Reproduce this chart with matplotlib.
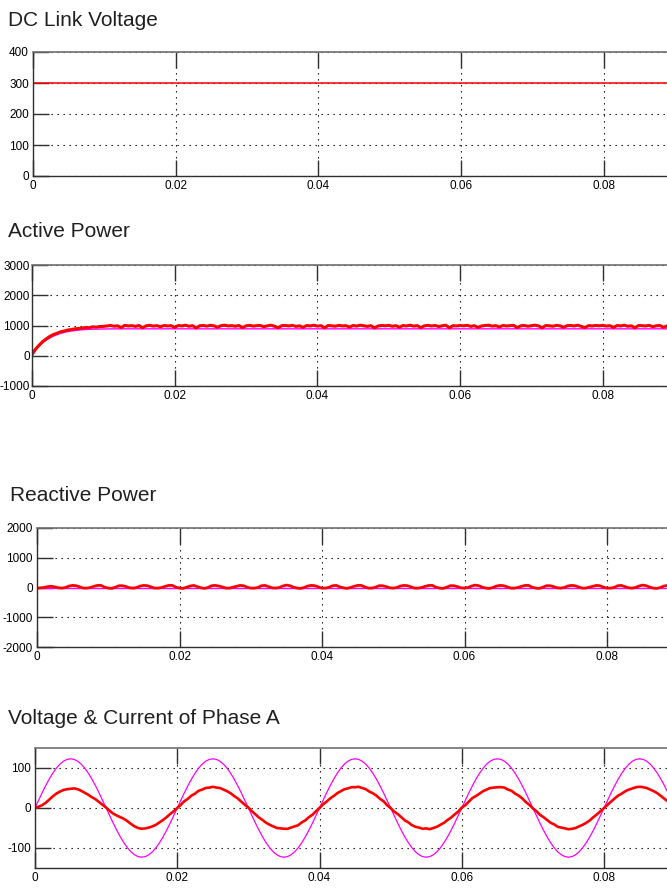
import numpy as np
import matplotlib
matplotlib.use("Agg")
import matplotlib.pyplot as plt

plt.rcParams['font.family'] = ['Liberation Sans', 'DejaVu Sans']

# ---------------- data ----------------
sample_time = np.linspace(0.0, 0.09, 181)  # 0.5 ms sampling

x_ticks = [0, 0.02, 0.04, 0.06, 0.08]
x_tick_labels = ['0', '0.02', '0.04', '0.06', '0.08']

titles = ['DC Link Voltage', 'Active Power', 'Reactive Power', 'Voltage & Current of Phase A']

# DC link voltage
dc_time = [0.0, 0.09]
dc_voltage = [300, 300]
dc_yticks = [0, 100, 200, 300, 400]

# Active power
active_meas = [
    40, 220, 350, 470, 560, 640, 700, 745, 790, 815, 850, 865, 890, 900, 915, 935, 925, 955, 945, 965, 970,
    985, 1000, 975, 990, 930, 1005, 985, 995, 970, 1000, 925, 990, 1005, 980, 995, 960, 1000, 985, 995, 935,
    1000, 985, 1010, 975, 995, 920, 990, 1000, 980, 1005, 990, 940, 995, 1010, 985, 995, 975, 1000, 930, 990,
    1005, 980, 995, 1000, 960, 990, 1010, 975, 925, 995, 1000, 985, 1005, 970, 990, 935, 1000, 985, 1010, 980,
    995, 925, 1000, 990, 975, 1005, 985, 995, 945, 1000, 980, 1010, 990, 970, 995, 920, 985, 1000, 990, 1005,
    975, 995, 940, 1000, 985, 1010, 980, 995, 930, 990, 1005, 985, 1000, 965, 990, 1010, 925, 995, 985, 1000,
    990, 1005, 970, 995, 935, 985, 1000, 1010, 980, 995, 950, 1000, 985, 995, 1005, 930, 990, 1000, 975, 995,
    1010, 985, 925, 1000, 990, 975, 1005, 990, 940, 995, 1000, 985, 1010, 970, 930, 995, 985, 1000, 990, 1005,
    980, 995, 935, 1000, 985, 1010, 975, 990, 925, 1000, 995, 985, 1005, 960, 990, 1000, 940, 985, 1005, 990,
]
active_ref_time = [0, 0.0005, 0.001, 0.0015, 0.002, 0.003, 0.004, 0.005, 0.006, 0.007, 0.008, 0.010, 0.012, 0.015, 0.09]
active_ref = [0, 180, 320, 430, 520, 650, 740, 800, 835, 860, 872, 885, 890, 890, 890]
active_yticks = [-1000, 0, 1000, 2000, 3000]

# Reactive power
reactive_meas = [
    -20, -10, 0, 30, 40, 20, -10, -20, 0, 50, 70, 60, 20, -20, -20, 0, 40, 70, 70, 10, -20,
    -30, 10, 60, 60, 30, -10, -20, 0, 50, 70, 60, 20, -20, -20, 0, 40, 70, 70, 10, -20,
    -30, 10, 50, 70, 30, -10, -30, 0, 60, 70, 50, 20, -20, -20, 10, 40, 70, 60, 10, -20,
    -20, 0, 60, 70, 30, -10, -20, 0, 50, 80, 60, 10, -20, -30, 0, 50, 70, 60, 20, -20,
    -20, 10, 60, 70, 20, -10, -30, 0, 40, 70, 70, 20, -20, -20, 10, 60, 60, 30, -10, -20,
    0, 50, 70, 60, 20, -20, -20, 0, 40, 70, 70, 10, -20, -30, 10, 60, 60, 30, -10, -20,
    0, 50, 80, 60, 10, -20, -30, 0, 50, 70, 60, 20, -20, -20, 0, 40, 70, 70, 10, -20,
    -30, 10, 60, 60, 30, -10, -20, 0, 50, 70, 60, 20, -20, -20, 10, 40, 70, 60, 10, -20,
    -20, 0, 60, 70, 30, -10, -20, 0, 50, 80, 60, 10, -20, -30, 0, 50, 70, 60, 20, -20,
]
reactive_ref_time = [0.0, 0.09]
reactive_ref = [-30, -30]
reactive_yticks = [-2000, -1000, 0, 1000, 2000]

# Phase A voltage and current
phase_voltage = [
    0, 19.2, 38.0, 55.8, 72.3, 87.0, 99.5, 109.6, 117.0, 121.5, 123.0, 121.5, 117.0, 109.6, 99.5, 87.0, 72.3, 55.8, 38.0, 19.2,
    0, -19.2, -38.0, -55.8, -72.3, -87.0, -99.5, -109.6, -117.0, -121.5, -123.0, -121.5, -117.0, -109.6, -99.5, -87.0, -72.3, -55.8, -38.0, -19.2,
    0, 19.2, 38.0, 55.8, 72.3, 87.0, 99.5, 109.6, 117.0, 121.5, 123.0, 121.5, 117.0, 109.6, 99.5, 87.0, 72.3, 55.8, 38.0, 19.2,
    0, -19.2, -38.0, -55.8, -72.3, -87.0, -99.5, -109.6, -117.0, -121.5, -123.0, -121.5, -117.0, -109.6, -99.5, -87.0, -72.3, -55.8, -38.0, -19.2,
    0, 19.2, 38.0, 55.8, 72.3, 87.0, 99.5, 109.6, 117.0, 121.5, 123.0, 121.5, 117.0, 109.6, 99.5, 87.0, 72.3, 55.8, 38.0, 19.2,
    0, -19.2, -38.0, -55.8, -72.3, -87.0, -99.5, -109.6, -117.0, -121.5, -123.0, -121.5, -117.0, -109.6, -99.5, -87.0, -72.3, -55.8, -38.0, -19.2,
    0, 19.2, 38.0, 55.8, 72.3, 87.0, 99.5, 109.6, 117.0, 121.5, 123.0, 121.5, 117.0, 109.6, 99.5, 87.0, 72.3, 55.8, 38.0, 19.2,
    0, -19.2, -38.0, -55.8, -72.3, -87.0, -99.5, -109.6, -117.0, -121.5, -123.0, -121.5, -117.0, -109.6, -99.5, -87.0, -72.3, -55.8, -38.0, -19.2,
    0, 19.2, 38.0, 55.8, 72.3, 87.0, 99.5, 109.6, 117.0, 121.5, 123.0, 121.5, 117.0, 109.6, 99.5, 87.0, 72.3, 55.8, 38.0, 19.2,
    0,
]
phase_current = [
    0, 3, 7, 13, 21, 29, 36, 41, 45, 47, 48, 49, 47, 43, 38, 33, 27, 22, 15, 8, 1,
    -7, -14, -19, -23, -27, -33, -40, -46, -50, -52, -51, -49, -46, -42, -36, -30, -23, -15, -8, 0,
    8, 17, 23, 31, 36, 43, 46, 50, 51, 53, 51, 50, 46, 42, 37, 30, 24, 16, 8, 1,
    -8, -16, -24, -30, -37, -42, -46, -50, -51, -52, -52, -49, -46, -43, -36, -31, -23, -17, -8, 0,
    9, 16, 24, 30, 37, 42, 47, 49, 52, 52, 53, 50, 47, 41, 37, 31, 23, 17, 7, 0,
    -9, -15, -23, -31, -36, -43, -47, -49, -52, -51, -53, -50, -47, -42, -37, -30, -24, -16, -9, 1,
    7, 16, 25, 30, 36, 42, 46, 50, 51, 52, 52, 51, 46, 43, 36, 31, 24, 15, 8, -1,
    -8, -17, -23, -30, -37, -41, -47, -49, -51, -53, -52, -50, -46, -42, -37, -31, -23, -16, -8, 0,
    8, 16, 24, 31, 36, 42, 46, 49, 52, 53, 52, 50, 46, 42, 37, 30, 23, 16, 9, 1,
]
phase_yticks = [-100, 0, 100]

# ---------------- figure ----------------
W, H = 667, 890
fig = plt.figure(figsize=(W / 100, H / 100), dpi=100)
fig.patch.set_facecolor('white')


def px_axes(left, top, bottom, scale):
    width = 5 * scale
    return fig.add_axes([left / W, 1 - bottom / H, width / W, (bottom - top) / H])


def style(ax, ylim, yticks, ypad=3):
    ax.set_xlim(0, 0.1)
    ax.set_ylim(*ylim)
    ax.set_xticks(x_ticks)
    ax.set_xticklabels(x_tick_labels)
    ax.set_yticks(yticks)
    ax.set_yticklabels([str(v) for v in yticks])
    ax.tick_params(direction='in', length=11.5, width=1.0, color='#303030',
                   top=True, right=True, labelsize=8.5, pad=3, labelcolor='black')
    ax.tick_params(axis='y', pad=ypad)
    ax.grid(True, color='black', linestyle=(0, (1.2, 4.2)), linewidth=0.8)
    ax.set_axisbelow(True)
    for s in ['left', 'bottom']:
        ax.spines[s].set_color('#303030')
        ax.spines[s].set_linewidth(1.0)
    for s in ['top', 'right']:
        ax.spines[s].set_color('#707070')
        ax.spines[s].set_linewidth(1.2)


RED = '#ff0000'
MAG = '#ff00ff'

ax1 = px_axes(33, 52, 176, 142.75)
style(ax1, (0, 400), dc_yticks)
ax1.plot(dc_time, dc_voltage, color=RED, lw=1.1)

ax2 = px_axes(32, 265, 386, 142.7)
style(ax2, (-1000, 3000), active_yticks, ypad=1.5)
ax2.plot(active_ref_time, active_ref, color=MAG, lw=1.0)
ax2.plot(sample_time, active_meas, color=RED, lw=2.2)

ax3 = px_axes(37, 528, 647, 142.5)
style(ax3, (-2000, 2000), reactive_yticks)
ax3.plot(reactive_ref_time, reactive_ref, color=MAG, lw=1.0)
ax3.plot(sample_time, reactive_meas, color=RED, lw=2.0)

ax4 = px_axes(35, 748, 868, 142.25)
style(ax4, (-150, 150), phase_yticks)
ax4.plot(sample_time, phase_voltage, color=MAG, lw=0.9)
ax4.plot(sample_time, phase_current, color=RED, lw=1.9)

title_pos = [(8, 26), (8, 237), (10, 501), (8, 724)]
for (tx, ty), t in zip(title_pos, titles):
    fig.text(tx / W, 1 - ty / H, t, fontsize=15, ha='left', va='baseline', color='#202020')

fig.savefig('out.png', dpi=100)
